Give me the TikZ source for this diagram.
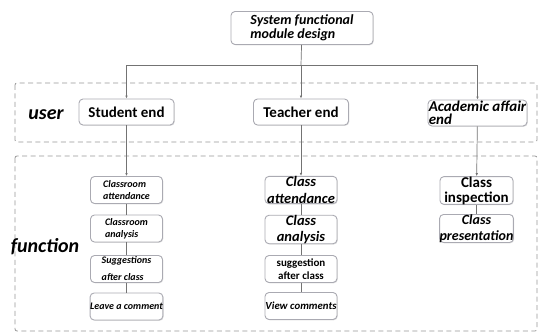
\documentclass[tikz,border=0pt]{standalone}
\usepackage{fontspec}
\setmainfont{Carlito}
\usetikzlibrary{arrows.meta,shadows}

\definecolor{boxline}{RGB}{170,170,178}
\definecolor{wirecol}{RGB}{115,115,115}
\definecolor{zonecol}{RGB}{150,150,150}

\tikzset{
  modbox/.style={draw=boxline, line width=0.9pt, rounded corners=4pt, fill=white,
    inner sep=0pt, font=\bfseries,
    drop shadow={shadow xshift=0.8pt, shadow yshift=-0.8pt, opacity=0.25}},
  endbox/.style={modbox, minimum width=95pt, minimum height=26pt},
  funcbox/.style={modbox, minimum width=72pt, minimum height=27pt},
  zonebox/.style={draw=zonecol, line width=0.8pt, dash pattern=on 5pt off 3.5pt, rounded corners=2pt},
  wire/.style={draw=wirecol, line width=0.7pt},
  arr/.style={wire, -{Latex[length=3pt,width=2.6pt]}},
  zonelabel/.style={font=\fontsize{20}{20}\selectfont\bfseries\itshape},
}

\begin{document}
\begin{tikzpicture}[x=1pt,y=-1pt]
\useasboundingbox (0,0) rectangle (539,334);
%%zones
\draw[zonebox] (15,83) rectangle (537,142);
\draw[zonebox] (15,156) rectangle (537,331);
\node[zonelabel] (userlbl) at (46,115) {user};
\node[zonelabel] (funclbl) at (45,247) {function};

%%top level
\node[modbox, minimum width=142pt, minimum height=33pt, align=left,
  font=\fontsize{14}{14}\selectfont\bfseries\itshape] (sys) at (302,28) {System functional\\module design};
\coordinate (hub) at (301,65);

%%user ends
\node[endbox, font=\fontsize{15}{15}\selectfont\bfseries] (stu) at (126.5,112) {Student end};
\node[endbox, font=\fontsize{15}{15}\selectfont\bfseries] (tea) at (301,112) {Teacher end};
\node[endbox, minimum width=99pt, align=left,
  font=\fontsize{15}{13.5}\selectfont\bfseries\itshape] (aca) at (477.5,113) {Academic affair\\end};

%%student functions
\node[funcbox, align=left, font=\fontsize{10}{12}\selectfont\bfseries\itshape] (s1) at (126.5,190) {Classroom\\attendance};
\node[funcbox, align=left, font=\fontsize{10}{12}\selectfont\bfseries\itshape] (s2) at (126.5,228.5) {Classroom\\analysis};
\node[funcbox, align=left, font=\fontsize{10}{17}\selectfont\bfseries\itshape] (s3) at (126.5,269) {Suggestions\\after class};
\node[funcbox, font=\fontsize{10}{12}\selectfont\bfseries\itshape] (s4) at (126.5,306.5) {Leave a comment};

%%teacher functions
\node[funcbox, align=center, font=\fontsize{14.5}{17}\selectfont\bfseries\itshape] (t1) at (301,190) {Class\\attendance};
\node[funcbox, align=center, font=\fontsize{14.5}{16}\selectfont\bfseries\itshape] (t2) at (301,229.5) {Class\\analysis};
\node[funcbox, align=center, font=\fontsize{11}{13}\selectfont\bfseries] (t3) at (301,269) {suggestion\\after class};
\node[funcbox, font=\fontsize{10.8}{12}\selectfont\bfseries\itshape] (t4) at (301,306) {View comments};

%%academic functions
\node[funcbox, minimum width=73pt, align=center, font=\fontsize{15}{15}\selectfont\bfseries] (a1) at (476.5,190.5) {Class\\inspection};
\node[funcbox, minimum width=73pt, align=center, font=\fontsize{14}{16}\selectfont\bfseries\itshape] (a2) at (476.5,228.5) {Class\\presentation};

%%connectors
\draw[wire] (sys) -- (hub);
\draw[arr] (hub) -| (stu);
\draw[arr] (hub) -- (tea);
\draw[arr] (hub) -| (aca);
\draw[arr] (stu) -- (s1);
\draw[wire] (s1) -- (s2);
\draw[wire] (s2) -- (s3);
\draw[wire] (s3) -- (s4);
\draw[arr] (tea) -- (t1);
\draw[wire] (t1) -- (t2);
\draw[wire] (t2) -- (t3);
\draw[wire] (t3) -- (t4);
\draw[arr] (aca) -- (a1);
\draw[wire] (a1) -- (a2);
\end{tikzpicture}
\end{document}
